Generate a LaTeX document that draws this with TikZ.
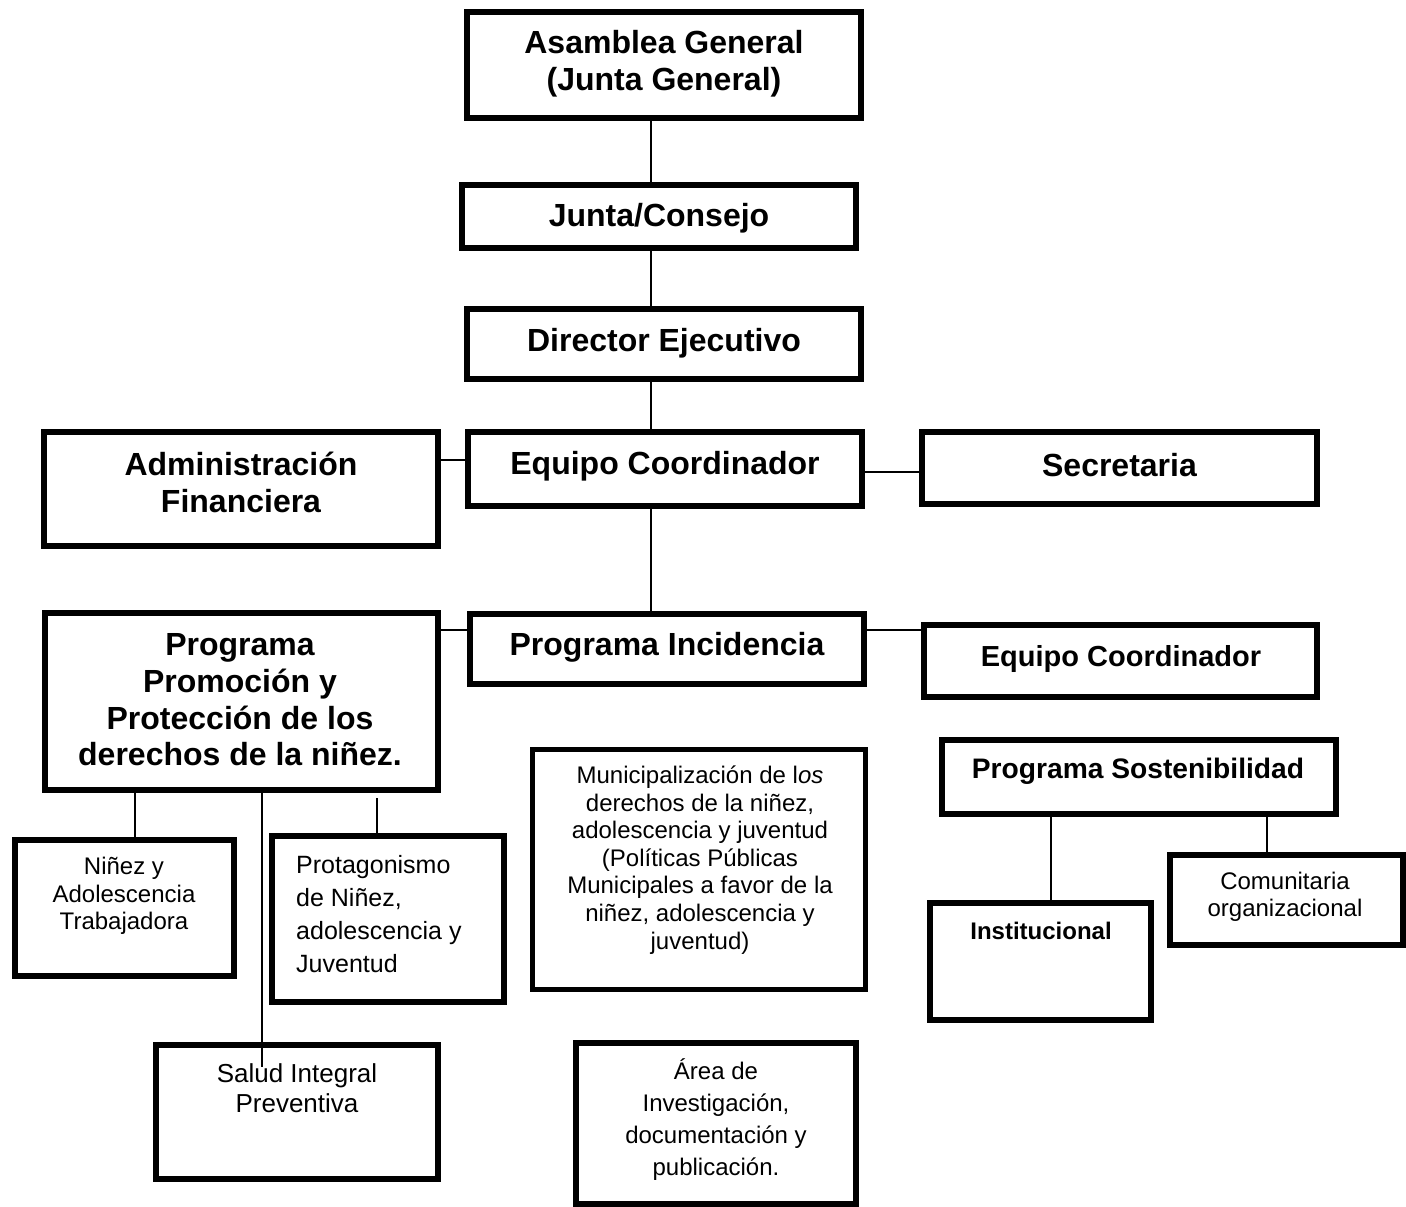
\documentclass[tikz,border=0pt]{standalone}
\usepackage{fontspec}
\setmainfont{Liberation Sans}
\begin{document}
\begin{tikzpicture}[x=1pt,y=-1pt,
  box/.style={draw=black, line width=6pt, rectangle, inner sep=0pt, fill=white},
  link/.style={draw=black, line width=1.5pt},
  big/.style={font=\fontsize{32}{37}\selectfont\bfseries, align=center, inner sep=0pt},
  mid/.style={font=\fontsize{29}{34}\selectfont\bfseries, align=center, inner sep=0pt},
  sm/.style={font=\fontsize{24}{27.6}\selectfont, align=center, inner sep=0pt},
]
\useasboundingbox (0,0) rectangle (1406,1207);
\fill[white] (0,0) rectangle (1406,1207);

% boxes
\node[box, minimum width=394, minimum height=106] (A) at (664,65) {};
\node[box, minimum width=394, minimum height=63] (J) at (659,216.5) {};
\node[box, minimum width=394, minimum height=70] (D) at (664,344) {};
\node[box, minimum width=394, minimum height=74] (E) at (665,469) {};
\node[box, minimum width=394, minimum height=114] (Ad) at (241,489) {};
\node[box, minimum width=395, minimum height=72] (S) at (1119.5,468) {};
\node[box, minimum width=394, minimum height=70] (I) at (667,649) {};
\node[box, minimum width=393, minimum height=177] (P) at (241.5,701.5) {};
\node[box, minimum width=393, minimum height=72] (E2) at (1120.5,661) {};
\node[box, minimum width=394, minimum height=74] (So) at (1139,777) {};
\node[box, line width=5pt, minimum width=333, minimum height=240] (M) at (699,869.5) {};
\node[box, minimum width=219, minimum height=136] (N) at (124.5,908) {};
\node[box, minimum width=232, minimum height=166] (Pr) at (388,919) {};
\node[box, minimum width=282, minimum height=134] (Sa) at (297,1112) {};
\node[box, minimum width=280, minimum height=161] (Ar) at (716,1123.5) {};
\node[box, minimum width=221, minimum height=117] (In) at (1040.5,961.5) {};
\node[box, minimum width=233, minimum height=90] (Co) at (1286.5,900) {};

% labels
\node[big] (At) at (664,64) {Asamblea General\\(Junta General)};
\node[big] (Jt) at (659,218) {Junta/Consejo};
\node[big] (Dt) at (664,343) {Director Ejecutivo};
\node[big] (Et) at (665,466) {Equipo Coordinador};
\node[big] (Adt) at (241,482) {Administración\\Financiera};
\node[big] (St) at (1119.5,465) {Secretaria};
\node[big] (It) at (667,647) {Programa Incidencia};
\node[big, font=\fontsize{32}{36.7}\selectfont\bfseries] (Pt) at (240,700) {Programa\\Promoción y\\Protección de los\\derechos de la niñez.};
\node[mid] (E2t) at (1121,659) {Equipo Coordinador};
\node[big, font=\fontsize{28.2}{33}\selectfont\bfseries] (Sot) at (1138,771) {Programa Sostenibilidad};
\node[sm] (Mt) at (700,860) {Municipalización de l\textit{os}\\derechos de la niñez,\\adolescencia y juventud\\(Políticas Públicas\\Municipales a favor de la\\niñez, adolescencia y\\juventud)};
\node[sm] (Nt) at (124,896) {Niñez y\\Adolescencia\\Trabajadora};
\node[sm, font=\fontsize{25}{33}\selectfont, align=left, anchor=west] (Prt) at (296,914.5) {Protagonismo\\de Niñez,\\adolescencia y\\Juventud};
\node[sm, font=\fontsize{26}{30}\selectfont] (Sat) at (297,1088) {Salud Integral\\Preventiva};
\node[sm, font=\fontsize{24}{32}\selectfont] (Art) at (716,1120) {Área de\\Investigación,\\documentación y\\publicación.};
\node[sm, font=\fontsize{24}{28}\selectfont\bfseries] (Int) at (1041,931) {Institucional};
\node[sm, font=\fontsize{24}{27}\selectfont] (Cot) at (1285,897) {Comunitaria\\organizacional};

% guide coordinates
\coordinate (sp) at (651,0);
\coordinate (ya) at (0,460);
\coordinate (yb) at (0,472);
\coordinate (yc) at (0,630);
\coordinate (xn) at (135,0);
\coordinate (xs) at (262,0);
\coordinate (xi) at (1051,0);
\coordinate (xc) at (1267,0);
\coordinate (prs) at (377,798);
\coordinate (saend) at (262,1067);

% connectors
\draw[link] (A.south -| sp) -- (J.north -| sp);
\draw[link] (J.south -| sp) -- (D.north -| sp);
\draw[link] (D.south -| sp) -- (E.north -| sp);
\draw[link] (E.south -| sp) -- (I.north -| sp);
\draw[link] (Ad.east |- ya) -- (E.west |- ya);
\draw[link] (E.east |- yb) -- (S.west |- yb);
\draw[link] (P.east |- yc) -- (I.west |- yc);
\draw[link] (I.east |- yc) -- (E2.west |- yc);
\draw[link] (P.south -| xn) -- (N.north -| xn);
\draw[link] (P.south -| xs) -- (saend);
\draw[link] (prs) -- (Pr.north -| prs);
\draw[link] (So.south -| xi) -- (In.north -| xi);
\draw[link] (So.south -| xc) -- (Co.north -| xc);
\end{tikzpicture}
\end{document}
